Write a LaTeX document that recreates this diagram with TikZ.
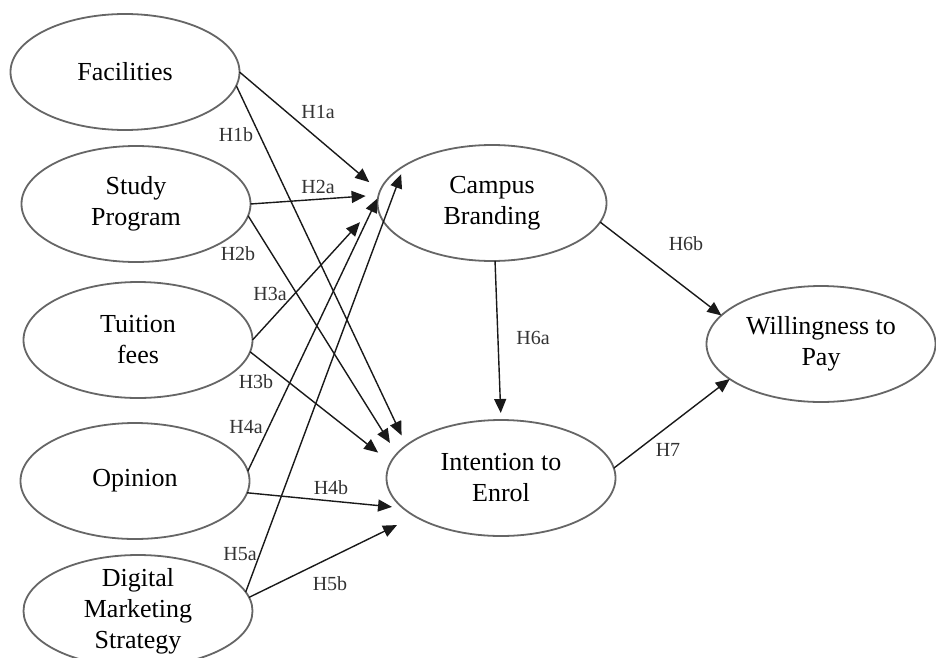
\documentclass[tikz,border=0pt]{standalone}
\usepackage{fontspec}
\setmainfont{Liberation Serif}
\usetikzlibrary{
    arrows.meta,
    shapes.geometric
}

\begin{document}
\begin{tikzpicture}[
    x=0.5pt, y=-0.5pt,
    construct/.style={ellipse, draw=black!60, line width=0.9pt, minimum width=114.5pt, minimum height=58pt, inner xsep=0pt, inner ysep=-4pt, outer sep=0pt, align=center, font=\fontsize{13}{15.5}\selectfont},
    arrow/.style={-{Triangle[length=7pt,width=6pt]}, line width=0.7pt, black!90},
    hyp/.style={font=\fontsize{10}{12}\selectfont, text=black!80, inner sep=1pt}
]
\useasboundingbox (0,0) rectangle (936,669);

% Exogenous constructs
\node[construct] (fac) at (125,72) {Facilities};
\node[construct] (sp) at (136,204) {Study\\Program};
\node[construct] (tf) at (138,340) {Tuition\\fees};
\node[construct] (op) at (135,481) {Opinion};
\node[construct, minimum height=56pt] (dms) at (138,611) {Digital\\Marketing\\Strategy};
\fill[white] (65,658) rectangle (208,669);

% Mediator and outcomes
\node[construct] (cb) at (492,203) {Campus\\Branding};
\node[construct] (ie) at (501,478) {Intention to\\Enrol};
\node[construct] (wtp) at (821,344) {Willingness to\\Pay};

% Paths to campus branding
\draw[arrow, shorten >=7pt] (fac.east) -- (cb.174);
\draw[arrow, shorten >=6.5pt] (sp.east) -- (cb.176);
\draw[arrow, shorten >=13pt] (tf.east) -- (cb.west);
\draw[arrow, shorten >=9pt] (op.5) -- (cb.169);
\draw[arrow, shorten >=4.5pt] (dms.10) -- (cb.157);

% Paths to intention
\draw[arrow, shorten >=5.5pt] (fac.-7) -- (ie.161);
\draw[arrow, shorten >=6.5pt] (sp.-6) -- (ie.167);
\draw[arrow, shorten >=8pt] (tf.-6) -- (ie.172);
\draw[arrow, shorten >=5.5pt] (op.-6) -- (ie.-163);
\draw[arrow, shorten >=10pt] (dms.7) -- (ie.-156);

% Paths to willingness
\draw[arrow, shorten >=3.5pt] (cb.-87) -- (ie.north);
\draw[arrow] (cb.-10) -- (wtp.164);
\draw[arrow] (ie.5) -- (wtp.-159);

% Hypothesis labels
\node[hyp] (h1a) at (318,112) {H1a};
\node[hyp] (h1b) at (236,135) {H1b};
\node[hyp] (h2a) at (318,187) {H2a};
\node[hyp] (h2b) at (238,254) {H2b};
\node[hyp] (h3a) at (270,294) {H3a};
\node[hyp] (h3b) at (256,382) {H3b};
\node[hyp] (h4a) at (246,427) {H4a};
\node[hyp] (h4b) at (331,488) {H4b};
\node[hyp] (h5a) at (240,554) {H5a};
\node[hyp] (h5b) at (330,584) {H5b};
\node[hyp] (h6a) at (533,338) {H6a};
\node[hyp] (h6b) at (686,244) {H6b};
\node[hyp] (h7) at (668,450) {H7};
\end{tikzpicture}
\end{document}
